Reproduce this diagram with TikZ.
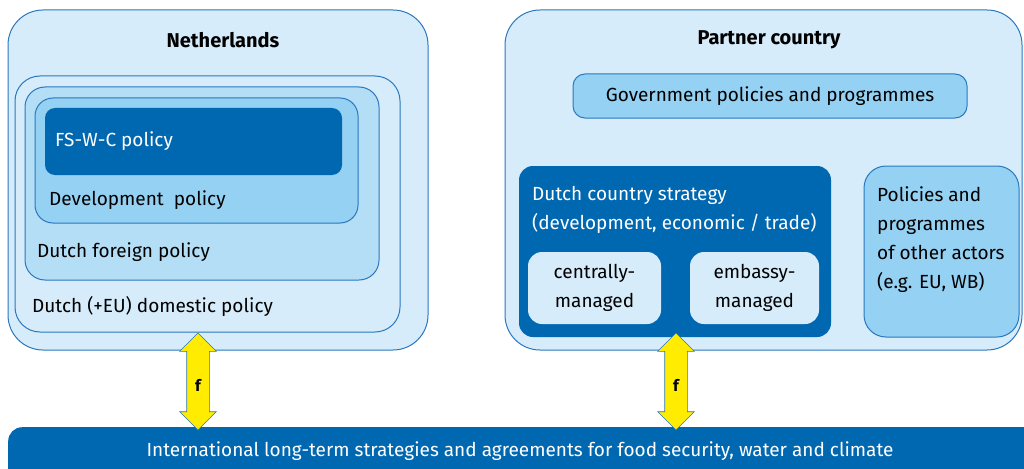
\documentclass[tikz,border=0pt]{standalone}
\usepackage{fontspec}
\setmainfont{Fira Sans}
\usetikzlibrary{positioning,shapes.arrows}
\definecolor{rijkblue}{HTML}{0067B1}
\definecolor{edgeblue}{HTML}{2A78BE}
\definecolor{paleblue}{HTML}{D7ECFA}
\definecolor{midblue}{HTML}{B4DEF5}
\definecolor{skyblue}{HTML}{94D1F3}
\definecolor{fyellow}{HTML}{FFEC00}

\begin{document}
\begin{tikzpicture}
        [x=1pt, y=-1pt,
        font=\fontsize{19}{29}\selectfont,
        box/.style={draw=edgeblue, line width=1pt, inner sep=0pt},
        darkbox/.style={fill=rijkblue, inner sep=0pt},
        label/.style={inner sep=0pt, align=left},
        title/.style={inner sep=0pt, font=\fontsize{20}{24}\selectfont\bfseries},
        farrow/.style={double arrow, draw=edgeblue, fill=fyellow, line width=0.6pt,
            minimum width=36pt, double arrow head extend=7pt, inner xsep=0pt, inner ysep=11pt}]
        \useasboundingbox (0,0) rectangle (1024,468);

        % Netherlands side
        \node [box, fill=paleblue, rounded corners=35pt, minimum width=420pt, minimum height=340pt] (nl) at (218,180) {};
        \node [box, fill=paleblue, rounded corners=25pt, minimum width=385pt, minimum height=256pt] (domestic) at (207.5,204) {};
        \node [box, fill=midblue, rounded corners=20pt, minimum width=354pt, minimum height=193pt] (foreign) at (202,183.5) {};
        \node [box, fill=skyblue, rounded corners=18pt, minimum width=323pt, minimum height=125pt] (develop) at (196.5,160.5) {};
        \node [darkbox, rounded corners=10pt, minimum width=297pt, minimum height=67pt] (fswc) at (193.5,141.5) {};

        \node [title] (nltitle) at (223,40) {Netherlands};
        \node [label, anchor=west, text=white] (fswctext) at (55,141) {FS-W-C policy};
        \node [label, anchor=west] (developtext) at (49,200) {Development\ \ policy};
        \node [label, anchor=west] (foreigntext) at (37,252) {Dutch foreign policy};
        \node [label, anchor=west] (domestictext) at (32,306) {Dutch (+EU) domestic policy};

        % Partner country side
        \node [box, fill=paleblue, rounded corners=35pt, minimum width=517pt, minimum height=340pt] (pc) at (763.5,180) {};
        \node [box, fill=skyblue, rounded corners=12pt, minimum width=394pt, minimum height=44pt] (gov) at (770,96) {};
        \node [darkbox, rounded corners=14pt, minimum width=312pt, minimum height=171pt] (strategy) at (675,251.5) {};
        \node [darkbox, fill=paleblue, rounded corners=14pt, minimum width=133pt, minimum height=72pt] (central) at (594.5,288) {};
        \node [darkbox, fill=paleblue, rounded corners=14pt, minimum width=129pt, minimum height=72pt] (embassy) at (754.5,288) {};
        \node [box, fill=skyblue, rounded corners=22pt, minimum width=155pt, minimum height=171pt] (others) at (941.5,251.5) {};

        \node [title] (pctitle) at (769,40) {Partner country};
        \node [label] (govtext) at (gov) {Government policies and programmes};
        \node [label, anchor=north west, text=white] (strategytext) at (532,186) {Dutch country strategy\\(development, economic / trade)};
        \node [label, align=center] (centraltext) at (central) {centrally-\\managed};
        \node [label, align=center] (embassytext) at (embassy) {embassy-\\managed};
        \node [label, anchor=north west] (otherstext) at (877,186) {Policies and\\programmes\\of other actors\\(e.g. EU, WB)};

        % International level
        \node [darkbox, rounded corners=14pt, minimum width=1040pt, minimum height=60pt, anchor=north west] (intl) at (8,427) {};
        \node [label, text=white] (intltext) at (520,451) {International long-term strategies and agreements for food security, water and climate};

        % links
        \node [farrow, rotate=90, minimum height=97pt] (linknl) at (198,381.5) {};
        \node [label, font=\fontsize{16}{18}\selectfont\bfseries] (fnl) at ([yshift=-4pt]linknl) {f};
        \node [farrow, rotate=90, minimum height=97pt] (linkpc) at (676,381.5) {};
        \node [label, font=\fontsize{16}{18}\selectfont\bfseries] (fpc) at ([yshift=-4pt]linkpc) {f};
\end{tikzpicture}
\end{document}
